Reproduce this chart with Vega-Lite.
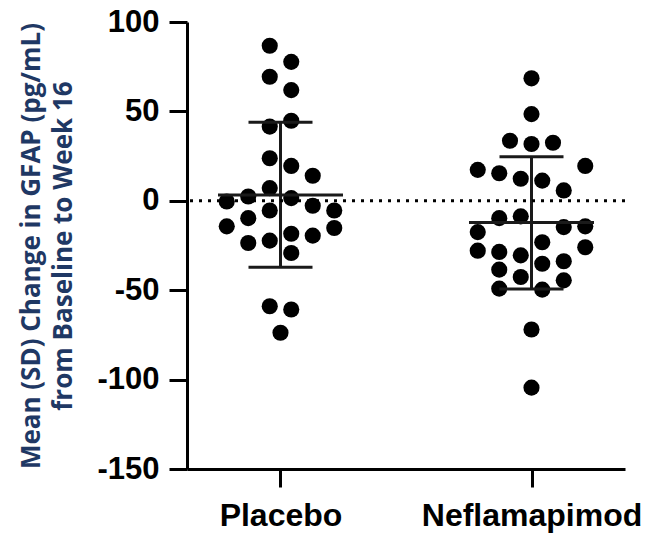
{
  "$schema": "https://vega.github.io/schema/vega-lite/v6.json",
  "autosize": {"type": "none"},
  "padding": {"left": 187, "top": 22, "right": 26, "bottom": 66},
  "width": 438,
  "height": 447,
  "background": "white",
  "config": {"view": {"stroke": null}},
  "datasets": {
    "points": [
      {"group": "Placebo", "value": 86.7, "slot": -1},
      {"group": "Placebo", "value": 77.7, "slot": 1},
      {"group": "Placebo", "value": 69.4, "slot": -1},
      {"group": "Placebo", "value": 61.9, "slot": 1},
      {"group": "Placebo", "value": 44.8, "slot": 1},
      {"group": "Placebo", "value": 41.5, "slot": -1},
      {"group": "Placebo", "value": 23.8, "slot": -1},
      {"group": "Placebo", "value": 19.5, "slot": 1},
      {"group": "Placebo", "value": 14.0, "slot": 3},
      {"group": "Placebo", "value": 7.1, "slot": -1},
      {"group": "Placebo", "value": 2.4, "slot": -3},
      {"group": "Placebo", "value": 1.5, "slot": 1},
      {"group": "Placebo", "value": -0.4, "slot": -5},
      {"group": "Placebo", "value": -2.8, "slot": 3},
      {"group": "Placebo", "value": -5.4, "slot": -1},
      {"group": "Placebo", "value": -5.4, "slot": 5},
      {"group": "Placebo", "value": -9.7, "slot": -3},
      {"group": "Placebo", "value": -14.3, "slot": -5},
      {"group": "Placebo", "value": -15.2, "slot": 5},
      {"group": "Placebo", "value": -18.4, "slot": 1},
      {"group": "Placebo", "value": -19.5, "slot": 3},
      {"group": "Placebo", "value": -22.3, "slot": -1},
      {"group": "Placebo", "value": -23.6, "slot": -3},
      {"group": "Placebo", "value": -29.2, "slot": 1},
      {"group": "Placebo", "value": -59.0, "slot": -1},
      {"group": "Placebo", "value": -60.8, "slot": 1},
      {"group": "Placebo", "value": -73.8, "slot": 0},
      {"group": "Neflamapimod", "value": 68.5, "slot": 0},
      {"group": "Neflamapimod", "value": 48.5, "slot": 0},
      {"group": "Neflamapimod", "value": 33.6, "slot": -2},
      {"group": "Neflamapimod", "value": 31.8, "slot": 0},
      {"group": "Neflamapimod", "value": 32.5, "slot": 2},
      {"group": "Neflamapimod", "value": 17.3, "slot": -5},
      {"group": "Neflamapimod", "value": 15.4, "slot": -3},
      {"group": "Neflamapimod", "value": 19.5, "slot": 5},
      {"group": "Neflamapimod", "value": 12.3, "slot": -1},
      {"group": "Neflamapimod", "value": 11.3, "slot": 1},
      {"group": "Neflamapimod", "value": 5.8, "slot": 3},
      {"group": "Neflamapimod", "value": -9.7, "slot": -3},
      {"group": "Neflamapimod", "value": -8.7, "slot": -1},
      {"group": "Neflamapimod", "value": -17.5, "slot": -5},
      {"group": "Neflamapimod", "value": -14.7, "slot": 3},
      {"group": "Neflamapimod", "value": -14.3, "slot": 5},
      {"group": "Neflamapimod", "value": -23.2, "slot": 1},
      {"group": "Neflamapimod", "value": -27.9, "slot": -5},
      {"group": "Neflamapimod", "value": -28.6, "slot": -3},
      {"group": "Neflamapimod", "value": -30.5, "slot": -1},
      {"group": "Neflamapimod", "value": -26.0, "slot": 5},
      {"group": "Neflamapimod", "value": -35.2, "slot": 1},
      {"group": "Neflamapimod", "value": -33.8, "slot": 3},
      {"group": "Neflamapimod", "value": -38.5, "slot": -3},
      {"group": "Neflamapimod", "value": -42.6, "slot": -1},
      {"group": "Neflamapimod", "value": -44.5, "slot": 3},
      {"group": "Neflamapimod", "value": -49.1, "slot": -3},
      {"group": "Neflamapimod", "value": -49.7, "slot": 1},
      {"group": "Neflamapimod", "value": -72.0, "slot": 0},
      {"group": "Neflamapimod", "value": -104.5, "slot": 0}
    ],
    "summary": [
      {"group": "Placebo", "mean": 3.3, "lower": -37.2, "upper": 43.9},
      {"group": "Neflamapimod", "mean": -12.1, "lower": -49.3, "upper": 24.6}
    ]
  },
  "encoding": {
    "x": {
      "field": "group",
      "type": "nominal",
      "sort": ["Placebo", "Neflamapimod"],
      "scale": {"type": "point", "padding": 0.3725, "domain": ["Placebo", "Neflamapimod"]},
      "axis": {
        "title": null,
        "labelAngle": 0,
        "labelFont": "Liberation Sans",
        "labelFontWeight": "bold",
        "labelFontSize": 32,
        "labelColor": "black",
        "labelPadding": 13,
        "labelLimit": 0,
        "labelBound": false,
        "labelOverlap": false,
        "tickSize": 18,
        "tickWidth": 3,
        "tickColor": "black",
        "domainWidth": 3,
        "domainColor": "black",
        "grid": false
      }
    }
  },
  "layer": [
    {
      "data": {"name": "points"},
      "mark": {"type": "circle", "size": 260, "opacity": 1, "color": "black"},
      "encoding": {
        "xOffset": {"field": "slot", "type": "quantitative", "scale": {"domain": [-5, 5], "range": [-53.75, 53.75]}},
        "y": {
          "field": "value",
          "type": "quantitative",
          "scale": {"domain": [-150, 100], "nice": false, "zero": false},
          "axis": {
            "values": [-150, -100, -50, 0, 50, 100],
            "labelExpr": "toString(datum.value)",
            "grid": false,
            "labelFont": "Liberation Sans",
            "labelFontWeight": "bold",
            "labelFontSize": 31,
            "labelColor": "black",
            "labelPadding": 10,
            "tickSize": 18,
            "tickWidth": 3,
            "tickColor": "black",
            "domainWidth": 3,
            "domainColor": "black",
            "title": ["Mean (SD) Change in GFAP (pg/mL)", "from Baseline to Week 16"],
            "titleFont": "Open Sans",
            "titleFontWeight": "bold",
            "titleFontSize": 26,
            "titleColor": "#1F3864",
            "titleLineHeight": 32,
            "titleAngle": -90,
            "titleAlign": "center",
            "titleBaseline": "middle",
            "titleX": -156,
            "titleY": 223.5
          }
        }
      }
    },
    {
      "data": {"name": "summary"},
      "mark": {"type": "rule", "color": "#1a1a1a", "strokeWidth": 3},
      "encoding": {
        "y": {"field": "lower", "type": "quantitative"},
        "y2": {"field": "upper"}
      }
    },
    {
      "data": {"name": "summary"},
      "mark": {"type": "tick", "color": "#1a1a1a", "thickness": 3, "size": 125, "opacity": 1},
      "encoding": {"y": {"field": "mean", "type": "quantitative"}}
    },
    {
      "data": {"name": "summary"},
      "mark": {"type": "tick", "color": "#1a1a1a", "thickness": 3, "size": 64, "opacity": 1},
      "encoding": {"y": {"field": "lower", "type": "quantitative"}}
    },
    {
      "data": {"name": "summary"},
      "mark": {"type": "tick", "color": "#1a1a1a", "thickness": 3, "size": 64, "opacity": 1},
      "encoding": {"y": {"field": "upper", "type": "quantitative"}}
    },
    {
      "data": {"values": [{"z": 0}]},
      "mark": {"type": "rule", "color": "black", "strokeWidth": 3, "strokeDash": [3, 6]},
      "encoding": {"y": {"field": "z", "type": "quantitative"}, "x": null}
    }
  ]
}
